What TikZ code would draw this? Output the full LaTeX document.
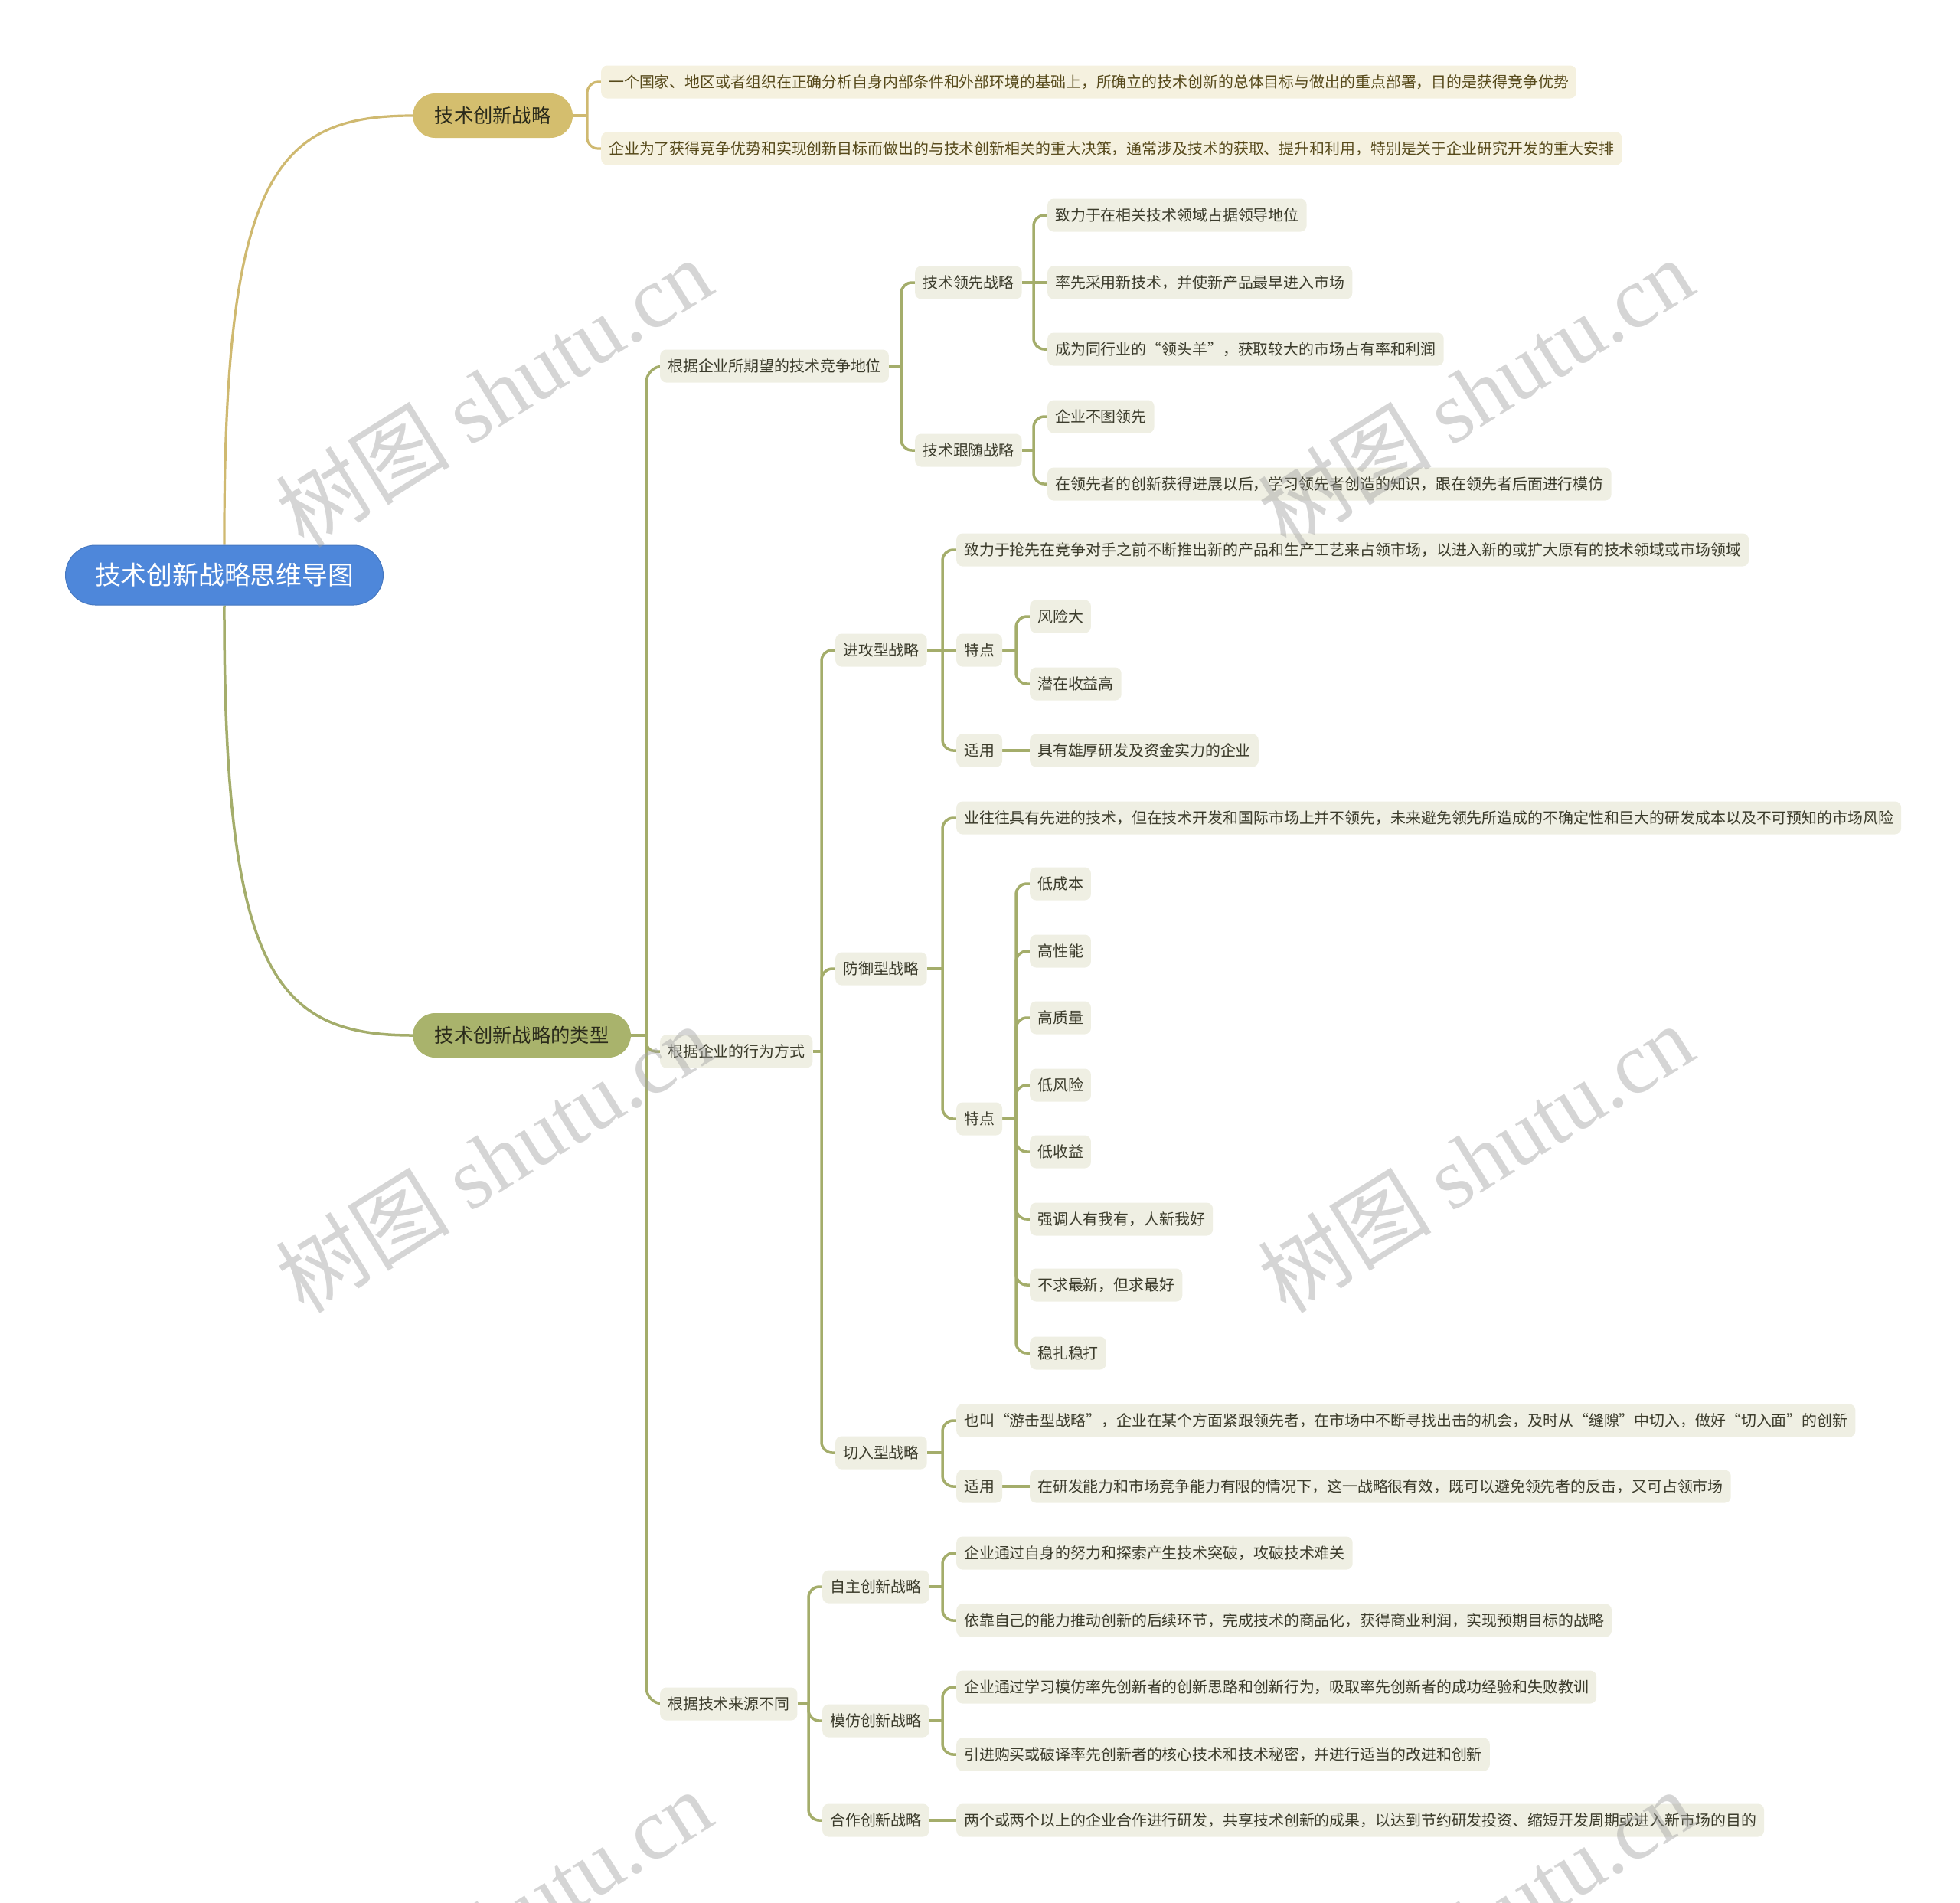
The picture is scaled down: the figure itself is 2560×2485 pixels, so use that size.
\documentclass[tikz,border=0pt]{standalone}
\usepackage{fontspec}
\setmainfont{Noto Sans CJK SC}
\newfontfamily\wmlatin{Liberation Serif}
\pgfdeclarelayer{bg}
\pgfdeclarelayer{wm}
\pgfsetlayers{bg,main,wm}
\definecolor{rootblue}{HTML}{4E87DA}
\definecolor{goldfill}{HTML}{D4BE6E}
\definecolor{olivefill}{HTML}{A9B36C}
\definecolor{goldline}{HTML}{CFB970}
\definecolor{oliveline}{HTML}{A4AD6B}
\definecolor{creamA}{HTML}{F5F1DF}
\definecolor{creamB}{HTML}{EFEFE3}
\definecolor{textA}{HTML}{56491A}
\definecolor{textB}{HTML}{3B3B2B}
\definecolor{pilltext}{HTML}{2B2B1B}
\definecolor{wmgrey}{HTML}{A0A0A0}
\newcommand{\smallfont}{\fontsize{19.9pt}{24pt}\selectfont}
\newcommand{\midfont}{\fontsize{25.3pt}{30pt}\selectfont}
\newcommand{\bigfont}{\fontsize{33.8pt}{40pt}\selectfont}
\newcommand{\mmstub}[4]{%
  \coordinate (#3) at ([xshift=-18pt]#4.west |- #2.east);
  \draw[#1] (#2.east) -- (#3);}
\newcommand{\mmkid}[3]{\draw[#1,rounded corners=14pt] (#2) |- (#3.west);}
\newcommand{\mmline}[3]{\draw[#1] (#2) -- (#3.west);}
\begin{document}
\begin{tikzpicture}[x=1pt,y=-1pt,
  base/.style={anchor=west, inner ysep=0pt, minimum height=43pt},
  leafA/.style={base, fill=creamA, text=textA, rounded corners=8pt, inner xsep=10pt, font=\smallfont},
  leafB/.style={base, fill=creamB, text=textB, rounded corners=8pt, inner xsep=10pt, font=\smallfont},
  pillA/.style={anchor=west, fill=goldfill, text=pilltext, rounded corners=29pt, minimum height=58pt, inner xsep=28.5pt, inner ysep=0pt, font=\midfont},
  pillB/.style={anchor=west, fill=olivefill, text=pilltext, rounded corners=29pt, minimum height=58pt, inner xsep=28.5pt, inner ysep=0pt, font=\midfont},
  rootnode/.style={anchor=west, fill=rootblue, draw=rootblue!88!black, line width=1pt, text=white, rounded corners=39pt, minimum height=78pt, inner xsep=38.5pt, inner ysep=0pt, font=\bigfont},
  gl/.style={draw=goldline, line width=3.2pt},
  ol/.style={draw=oliveline, line width=3.5pt},
  wm/.style={rotate=32, text=wmgrey, text opacity=0.44, inner sep=0pt, font=\fontsize{114pt}{114pt}\selectfont}]
\useasboundingbox (0,0) rectangle (2560,2485);
% nodes
\node[rootnode] (root) at (85,751) {技术创新战略思维导图};
\node[pillA] (A) at (539,151) {技术创新战略};
\node[pillB] (B) at (539,1352) {技术创新战略的类型};
\node[leafA] (a1) at (785,107) {一个国家、地区或者组织在正确分析自身内部条件和外部环境的基础上，所确立的技术创新的总体目标与做出的重点部署，目的是获得竞争优势};
\node[leafA] (a2) at (785,194) {企业为了获得竞争优势和实现创新目标而做出的与技术创新相关的重大决策，通常涉及技术的获取、提升和利用，特别是关于企业研究开发的重大安排};
\node[leafB] (b1) at (862,478) {根据企业所期望的技术竞争地位};
\node[leafB] (b2) at (862,1373) {根据企业的行为方式};
\node[leafB] (b3) at (862,2225) {根据技术来源不同};
\node[leafB] (b11) at (1195,369) {技术领先战略};
\node[leafB] (b12) at (1195,588) {技术跟随战略};
\node[leafB] (c1) at (1368,281) {致力于在相关技术领域占据领导地位};
\node[leafB] (c2) at (1368,369) {率先采用新技术，并使新产品最早进入市场};
\node[leafB] (c3) at (1368,456) {成为同行业的“领头羊”，获取较大的市场占有率和利润};
\node[leafB] (c4) at (1368,544) {企业不图领先};
\node[leafB] (c5) at (1368,632) {在领先者的创新获得进展以后，学习领先者创造的知识，跟在领先者后面进行模仿};
\node[leafB] (d1) at (1091,849) {进攻型战略};
\node[leafB] (d2) at (1091,1265) {防御型战略};
\node[leafB] (d3) at (1091,1897) {切入型战略};
\node[leafB] (d11) at (1249,718) {致力于抢先在竞争对手之前不断推出新的产品和生产工艺来占领市场，以进入新的或扩大原有的技术领域或市场领域};
\node[leafB] (d12) at (1249,849) {特点};
\node[leafB] (d13) at (1249,980) {适用};
\node[leafB] (f1) at (1345,805) {风险大};
\node[leafB] (f2) at (1345,893) {潜在收益高};
\node[leafB] (f3) at (1345,980) {具有雄厚研发及资金实力的企业};
\node[leafB] (d21) at (1249,1068) {业往往具有先进的技术，但在技术开发和国际市场上并不领先，未来避免领先所造成的不确定性和巨大的研发成本以及不可预知的市场风险};
\node[leafB] (d22) at (1249,1461) {特点};
\node[leafB] (g1) at (1345,1154) {低成本};
\node[leafB] (g2) at (1345,1242) {高性能};
\node[leafB] (g3) at (1345,1329) {高质量};
\node[leafB] (g4) at (1345,1417) {低风险};
\node[leafB] (g5) at (1345,1504) {低收益};
\node[leafB] (g6) at (1345,1592) {强调人有我有，人新我好};
\node[leafB] (g7) at (1345,1678) {不求最新，但求最好};
\node[leafB] (g8) at (1345,1767) {稳扎稳打};
\node[leafB] (d31) at (1249,1855) {也叫“游击型战略”，企业在某个方面紧跟领先者，在市场中不断寻找出击的机会，及时从“缝隙”中切入，做好“切入面”的创新};
\node[leafB] (d32) at (1249,1941) {适用};
\node[leafB] (h1) at (1345,1941) {在研发能力和市场竞争能力有限的情况下，这一战略很有效，既可以避免领先者的反击，又可占领市场};
\node[leafB] (e1) at (1074,2072) {自主创新战略};
\node[leafB] (e2) at (1074,2247) {模仿创新战略};
\node[leafB] (e3) at (1074,2377) {合作创新战略};
\node[leafB] (e11) at (1249,2028) {企业通过自身的努力和探索产生技术突破，攻破技术难关};
\node[leafB] (e12) at (1249,2116) {依靠自己的能力推动创新的后续环节，完成技术的商品化，获得商业利润，实现预期目标的战略};
\node[leafB] (e21) at (1249,2203) {企业通过学习模仿率先创新者的创新思路和创新行为，吸取率先创新者的成功经验和失败教训};
\node[leafB] (e22) at (1249,2291) {引进购买或破译率先创新者的核心技术和技术秘密，并进行适当的改进和创新};
\node[leafB] (e31) at (1249,2377) {两个或两个以上的企业合作进行研发，共享技术创新的成果，以达到节约研发投资、缩短开发周期或进入新市场的目的};
% connectors
\begin{pgfonlayer}{bg}
\draw[gl] (root.north) .. controls (292,230) and (360,151) .. (A.west);
\draw[ol] (root.south) .. controls (292,1270) and (360,1352) .. (B.west);
\mmstub{gl}{A}{jA}{a1}
\mmkid{gl}{jA}{a1}\mmkid{gl}{jA}{a2}
\mmstub{ol}{B}{jB}{b1}
\draw[ol,rounded corners=22pt] (jB) |- (b1.west);
\draw[ol,rounded corners=12pt] (jB) |- (b2.west);
\draw[ol,rounded corners=22pt] (jB) |- (b3.west);
\mmstub{ol}{b1}{jb1}{b11}
\mmkid{ol}{jb1}{b11}\mmkid{ol}{jb1}{b12}
\mmstub{ol}{b11}{jb11}{c1}
\mmkid{ol}{jb11}{c1}\mmline{ol}{jb11}{c2}\mmkid{ol}{jb11}{c3}
\mmstub{ol}{b12}{jb12}{c4}
\mmkid{ol}{jb12}{c4}\mmkid{ol}{jb12}{c5}
\mmstub{ol}{b2}{jb2}{d1}
\mmkid{ol}{jb2}{d1}\mmkid{ol}{jb2}{d2}\mmkid{ol}{jb2}{d3}
\mmstub{ol}{d1}{jd1}{d11}
\mmkid{ol}{jd1}{d11}\mmline{ol}{jd1}{d12}\mmkid{ol}{jd1}{d13}
\mmstub{ol}{d12}{jd12}{f1}
\mmkid{ol}{jd12}{f1}\mmkid{ol}{jd12}{f2}
\draw[ol] (d13.east) -- (f3.west);
\mmstub{ol}{d2}{jd2}{d21}
\mmkid{ol}{jd2}{d21}\mmkid{ol}{jd2}{d22}
\mmstub{ol}{d22}{jd22}{g1}
\mmkid{ol}{jd22}{g1}\mmkid{ol}{jd22}{g2}\mmkid{ol}{jd22}{g3}\mmkid{ol}{jd22}{g4}
\mmkid{ol}{jd22}{g5}\mmkid{ol}{jd22}{g6}\mmkid{ol}{jd22}{g7}\mmkid{ol}{jd22}{g8}
\mmstub{ol}{d3}{jd3}{d31}
\mmkid{ol}{jd3}{d31}\mmkid{ol}{jd3}{d32}
\draw[ol] (d32.east) -- (h1.west);
\mmstub{ol}{b3}{jb3}{e1}
\mmkid{ol}{jb3}{e1}\mmkid{ol}{jb3}{e2}\mmkid{ol}{jb3}{e3}
\mmstub{ol}{e1}{je1}{e11}
\mmkid{ol}{je1}{e11}\mmkid{ol}{je1}{e12}
\mmstub{ol}{e2}{je2}{e21}
\mmkid{ol}{je2}{e21}\mmkid{ol}{je2}{e22}
\draw[ol] (e3.east) -- (e31.west);
\end{pgfonlayer}
% watermarks
\begin{pgfonlayer}{wm}
\node[wm] (w1) at (645,512) {树图 {\wmlatin shutu.cn}};
\node[wm] (w2) at (1927,512) {树图 {\wmlatin shutu.cn}};
\node[wm] (w3) at (645,1512) {树图 {\wmlatin shutu.cn}};
\node[wm] (w4) at (1927,1512) {树图 {\wmlatin shutu.cn}};
\node[wm] (w5) at (645,2512) {树图 {\wmlatin shutu.cn}};
\node[wm] (w6) at (1927,2512) {树图 {\wmlatin shutu.cn}};
\end{pgfonlayer}
\end{tikzpicture}
\end{document}
